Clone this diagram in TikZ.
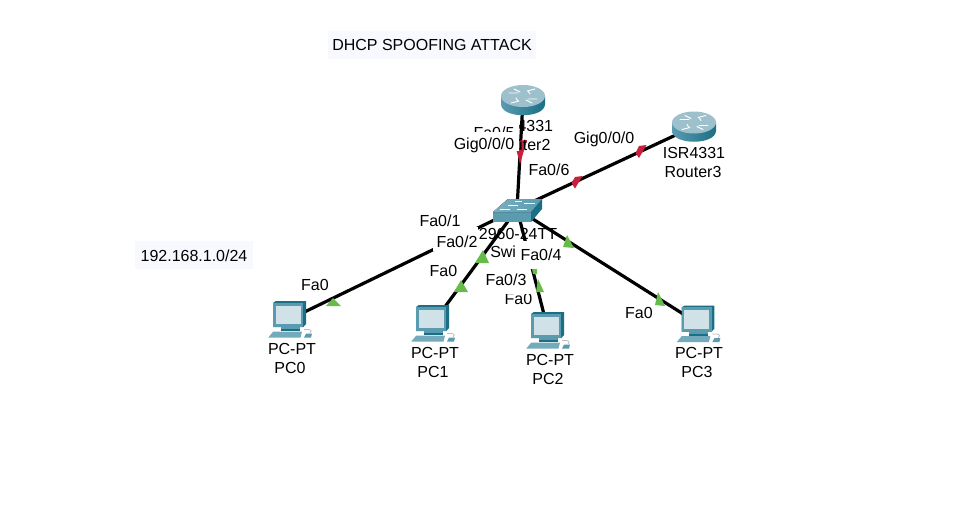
\documentclass[tikz,border=0pt]{standalone}
\usepackage{fontspec}
\setmainfont{Liberation Sans}
\definecolor{labelbg}{HTML}{F7F9FF}
\definecolor{linkred}{HTML}{C8203A}
\definecolor{linkgreen}{HTML}{66BB4A}
\definecolor{tealdark}{HTML}{1B6F84}
\definecolor{tealmid}{HTML}{5A9BB0}
\definecolor{teallight}{HTML}{D0E1E7}
\definecolor{routertop}{HTML}{9DC0CC}
\newcommand{\textat}[4]{\node[txt] (#1) at (#2,#3+6.4) {#4};}
\newcommand{\iflab}[8]{\fill[white] (#5,#6) rectangle (#7,#8);\node[txt] (#1) at (#2,#3+6.4) {#4};}
\tikzset{
 x=0.75pt,y=-0.75pt,
 txt/.style={anchor=base,inner sep=0pt,font=\fontsize{12pt}{14pt}\selectfont,text=black},
 devnode/.style={inner sep=0pt,minimum size=0pt},
 link/.style={line width=2.4pt,black},
 redlight/.style={fill=linkred},
 greenlight/.style={fill=linkgreen},
 routericon/.pic={
  \shade[left color=tealmid,middle color=teallight,right color=tealdark]
    (-22,-4) -- (-22,4) .. controls (-22,19) and (22,19) .. (22,4) -- (22,-4) -- cycle;
  \fill[routertop] (0,-4) ellipse [x radius=22,y radius=11];
  \draw[white,line width=0.7pt,line cap=round]
    (-14,-7) -- (-5,-7) (-9,-11) -- (-3,-8)
    (14,-1) -- (5,-1) (9,3) -- (3,0)
    (4,-9) -- (12,-11) (5,-9) -- (7,-6)
    (-4,1) -- (-12,3) (-5,1) -- (-7,-2);
 },
 switchicon/.pic={
  \fill[tealmid] (-24,3) rectangle (14,13);
  \fill[tealdark] (14,3) -- (25,-10) -- (25,0) -- (14,13) -- cycle;
  \fill[left color=tealmid!80!white,right color=tealmid] (-24,3) -- (-9,-10) -- (25,-10) -- (14,3) -- cycle;
  \draw[white,line width=0.6pt] (-9,-4) -- (1,-4) (7,-6) -- (18,-6) (-17,0) -- (-7,0) (0,0) -- (10,0) (-2,-8) -- (5,-8);
 },
 pcicon/.pic={
  \begin{scope}[yshift=2.25pt]
  \fill[tealdark] (-14,-15) -- (16,-15) -- (16,8) -- (13.3,11) -- (-16.7,11) -- (-16.7,-13.3) -- cycle;
  \fill[tealmid] (-16.7,-13.3) rectangle (13.3,11);
  \fill[teallight] (-14,-10.5) rectangle (11,8);
  \fill[tealmid] (-9,11) rectangle (10,13);
  \fill[tealdark] (-9,13) rectangle (10,15);
  \fill[tealmid!85!white] (-21.7,21.5) -- (-16.7,15.5) -- (12,15.5) -- (10.5,21.5) -- cycle;
  \fill[tealmid] (14,21.5) -- (16,17.5) -- (22,17.5) -- (21,21.5) -- cycle;
  \draw[gray!50,line width=0.6pt] (20,17) .. controls (23,14) and (20,13) .. (14,13.5);
  \end{scope}
 },
}
\begin{document}
\begin{tikzpicture}
\useasboundingbox (0,0) rectangle (957,511);
\fill[white] (0,0) rectangle (957,511);
% device anchors
\node[devnode] (r2) at (523,100) {};
\node[devnode] (r3) at (694,126.5) {};
\node[devnode] (sw) at (517,209) {};
\node[devnode] (pc0) at (290,319) {};
\node[devnode] (pc1) at (433,323) {};
\node[devnode] (pc2) at (548,330) {};
\node[devnode] (pc3) at (698.4,323.6) {};
% links
\draw[link] (r2) -- (sw);
\draw[link] (r3) -- (sw);
\draw[link] (sw) -- (pc0);
\draw[link] (sw) -- (pc1);
\draw[link] (sw) -- (pc2);
\draw[link] (sw) -- (pc3);
% link lights
\fill[redlight] (514,141) -- (527,140) -- (520,164) -- cycle;
\fill[redlight] (639,146) -- (646.5,145) -- (639,158) -- (635.5,153) -- cycle;
\fill[redlight] (575,177) -- (582.5,176) -- (575,188.5) -- (571.5,183) -- cycle;
\fill[greenlight] (326,306) -- (341,306) -- (333,298) -- cycle;
\fill[greenlight] (475,263) -- (489,263) -- (483,250) -- cycle;
\fill[greenlight] (454,292) -- (468,292) -- (461,280) -- cycle;
\fill[greenlight] (536,292) -- (544,292) -- (538,279) -- cycle;
\fill[greenlight] (531,264) -- (537,264) -- (537,274) -- (533,274) -- cycle;
\fill[greenlight] (563,247) -- (574,248) -- (567,235) -- cycle;
\fill[greenlight] (655,305) -- (665,306) -- (658,292) -- cycle;
% icons
\pic at (r2) {routericon};
\pic at (r3) {routericon};
\pic at (sw) {switchicon};
\pic at (pc0) {pcicon};
\pic at (pc1) {pcicon};
\pic at (pc2) {pcicon};
\pic at (pc3) {pcicon};
% device names
\textat{r2a}{522}{125}{ISR4331}
\textat{r2b}{522}{144}{Router2}
\textat{r3a}{694}{152}{ISR4331}
\textat{r3b}{693}{171}{Router3}
\textat{swa}{518}{233}{2960-24TT}
\node[txt,anchor=base west] (swb) at (490,257.4) {Switch};
\textat{pc0a}{292}{348}{PC-PT}
\textat{pc0b}{290}{367}{PC0}
\textat{pc1a}{435}{352}{PC-PT}
\textat{pc1b}{433}{371}{PC1}
\textat{pc2a}{550}{359}{PC-PT}
\textat{pc2b}{548}{378}{PC2}
\textat{pc3a}{699}{352}{PC-PT}
\textat{pc3b}{697}{371}{PC3}
% interface labels
\iflab{l5}{494}{132}{Fa0/5}{472}{116}{519}{132}
\iflab{lg2}{484}{143}{Gig0/0/0}{450}{131.5}{519}{151}
\iflab{lg3}{604}{137}{Gig0/0/0}{570}{126}{636}{148}
\iflab{l6}{549}{169}{Fa0/6}{525}{158}{570}{176}
\iflab{l1}{440}{220}{Fa0/1}{417}{209}{463}{227}
\iflab{l2}{457}{241}{Fa0/2}{433}{227}{478}{251}
\iflab{l01}{443.5}{270}{Fa0}{426}{259}{458}{280}
\iflab{l00}{315}{284}{Fa0}{298}{273}{332}{295}
\iflab{l02}{518.5}{298}{Fa0}{502}{287}{533}{309}
\iflab{l4}{541}{254}{Fa0/4}{515}{241}{563}{269}
\iflab{l3}{506}{279}{Fa0/3}{484}{270}{530}{294}
\iflab{l03}{639}{312}{Fa0}{622}{301}{654}{323}
% notes
\node[fill=labelbg,minimum width=156pt,minimum height=21pt,inner sep=0pt] (titlebg) at (432,45) {};
\textat{title}{432}{44}{DHCP SPOOFING ATTACK}
\node[fill=labelbg,minimum width=88.5pt,minimum height=21pt,inner sep=0pt] (netbg) at (194,255) {};
\textat{net}{194}{255}{192.168.1.0/24}
\end{tikzpicture}
\end{document}
